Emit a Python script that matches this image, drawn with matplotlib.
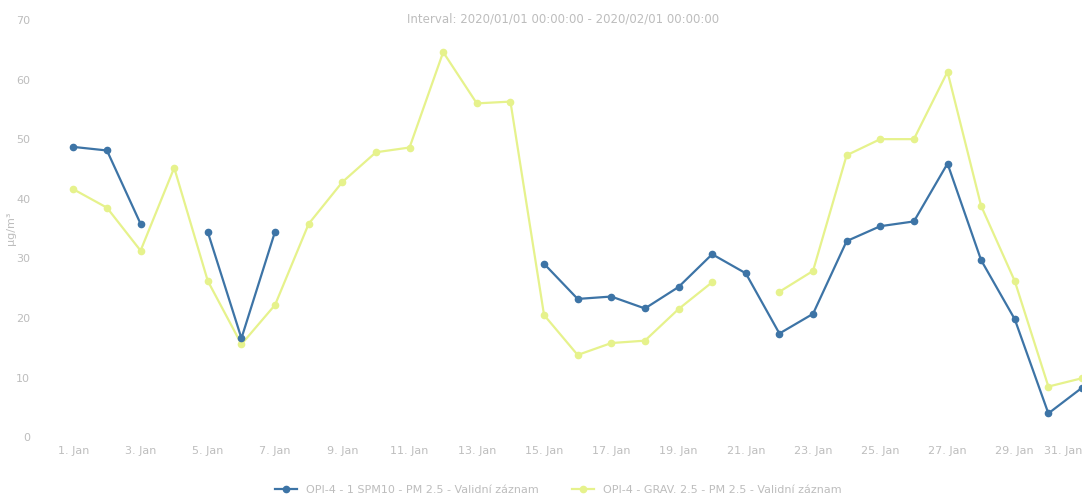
import numpy as np
import matplotlib
matplotlib.use("Agg")
import matplotlib.pyplot as plt

# dny v lednu 2020
days = np.arange(1, 32)
nan = np.nan

# OPI-4 - 1 SPM10 - PM 2.5
spm = [48.7, 48.1, 35.8, nan, 34.4, 16.6, 34.5, nan, nan, nan,
       nan, nan, nan, nan, 29.1, 23.2, 23.6, 21.6, 25.2, 30.7,
       27.5, 17.4, 20.7, 32.9, 35.4, 36.2, 45.9, 29.7, 19.8, 4.0, 8.3]

# OPI-4 - GRAV. 2.5 - PM 2.5
grav = [41.6, 38.5, 31.3, 45.2, 26.2, 15.6, 22.2, 35.8, 42.8, 47.8,
        48.6, 64.6, 56.0, 56.3, 20.5, 13.8, 15.8, 16.2, 21.5, 26.0,
        nan, 24.4, 27.9, 47.3, 50.0, 50.0, 61.3, 38.8, 26.2, 8.5, 9.9]

tick_days = list(range(1, 32, 2))
tick_labels = ["%d. Jan" % d for d in tick_days]

blue = "#3d74a6"
yellow = "#e6f28c"
txt = "#bdbdbd"

fig = plt.figure(figsize=(10.82, 4.98), dpi=100)
ax = fig.add_axes([0.051, 0.122, 0.949, 0.838])

ax.plot(days, spm, color=blue, lw=1.6, marker="o", ms=4.5,
        label="OPI-4 - 1 SPM10 - PM 2.5 - Validní záznam", zorder=3)
ax.plot(days, grav, color=yellow, lw=1.6, marker="o", ms=4.5,
        label="OPI-4 - GRAV. 2.5 - PM 2.5 - Validní záznam", zorder=2)

ax.set_xlim(0.46, 31.0)
ax.set_ylim(0, 70)
ax.set_yticks(range(0, 71, 10))
ax.set_xticks(tick_days)
ax.set_xticklabels(tick_labels)
ax.tick_params(colors=txt, labelsize=8, length=0)
ax.tick_params(axis="x", pad=6)
ax.tick_params(axis="y", pad=18)
# posledni popisek zarovnat doprava, aby se vesel
ax.get_xticklabels()[-1].set_ha("right")
for s in ax.spines.values():
    s.set_visible(False)

ax.set_ylabel("µg/m³", color=txt, fontsize=8, labelpad=0)
fig.text(0.52, 0.962, "Interval: 2020/01/01 00:00:00 - 2020/02/01 00:00:00",
         color=txt, fontsize=8.5, ha="center", va="center")

ax.legend(loc="upper center", bbox_to_anchor=(0.49, -0.09), ncol=2,
          frameon=False, fontsize=8, labelcolor=txt, handlelength=2,
          columnspacing=3)

fig.savefig("out.png", dpi=100)
